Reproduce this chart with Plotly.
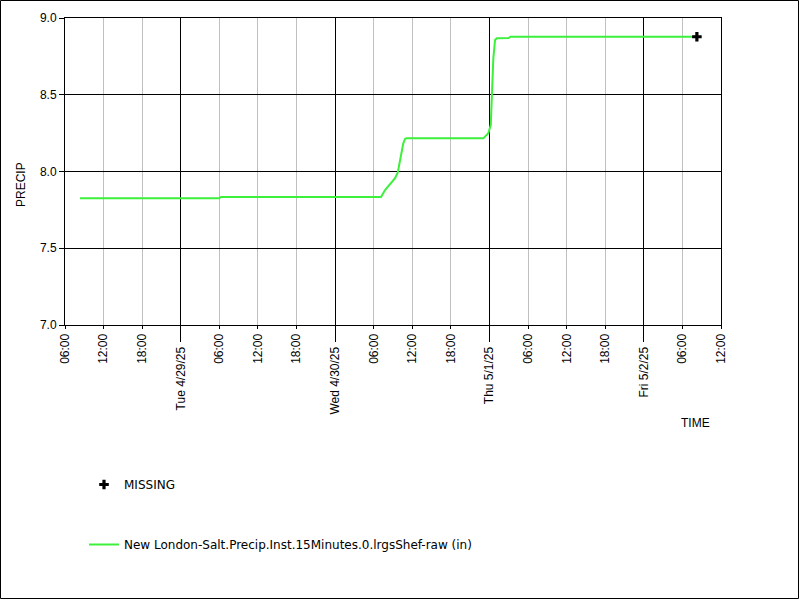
import plotly.graph_objects as go

# ---- data ----
times = [
    "2025-04-28 08:20", "2025-04-29 06:00", "2025-04-29 06:15", "2025-04-30 07:08",
    "2025-04-30 07:46", "2025-04-30 09:19", "2025-04-30 09:44", "2025-04-30 10:05",
    "2025-04-30 10:36", "2025-04-30 10:52", "2025-04-30 11:05", "2025-04-30 23:03",
    "2025-04-30 23:49", "2025-05-01 00:12", "2025-05-01 00:27", "2025-05-01 00:36",
    "2025-05-01 00:52", "2025-05-01 01:08", "2025-05-01 03:00", "2025-05-01 03:15",
    "2025-05-02 08:15",
]
precip = [
    7.826, 7.826, 7.834, 7.834,
    7.879, 7.956, 7.992, 8.064,
    8.184, 8.212, 8.216, 8.216,
    8.249, 8.303, 8.520, 8.737,
    8.857, 8.868, 8.870, 8.878,
    8.878,
]
missing_times = ["2025-05-02 08:15"]
missing_values = [8.878]

series_name = "New London-Salt.Precip.Inst.15Minutes.0.lrgsShef-raw (in)"
missing_name = "MISSING"

hour_ticks = [
    "2025-04-28 06:00", "2025-04-28 12:00", "2025-04-28 18:00",
    "2025-04-29 06:00", "2025-04-29 12:00", "2025-04-29 18:00",
    "2025-04-30 06:00", "2025-04-30 12:00", "2025-04-30 18:00",
    "2025-05-01 06:00", "2025-05-01 12:00", "2025-05-01 18:00",
    "2025-05-02 06:00", "2025-05-02 12:00",
]
hour_labels = ["06:00", "12:00", "18:00"] * 4 + ["06:00", "12:00"]
day_ticks = ["2025-04-29 00:00", "2025-04-30 00:00", "2025-05-01 00:00", "2025-05-02 00:00"]
day_labels = ["Tue 4/29/25", "Wed 4/30/25", "Thu 5/1/25", "Fri 5/2/25"]

x_range = ["2025-04-28 06:00", "2025-05-02 12:00"]
y_range = [7.0, 9.0]

# ---- layout geometry (pixels) ----
W, H = 800, 600
L, R, T, B = 65, 721, 18, 325
pw, ph = R - L, B - T


def px_x(p):
    return (p - L) / pw


def px_y(p):
    return (B - p) / ph


fig = go.Figure()
fig.add_trace(go.Scatter(
    x=times, y=precip, mode="lines", name=series_name,
    line=dict(color="#3cf03c", width=2), legend="legend2",
))
fig.add_trace(go.Scatter(
    x=missing_times, y=missing_values, mode="markers", name=missing_name,
    marker=dict(symbol="cross", size=8, color="black"), legend="legend",
))
# invisible trace to activate the day axis
fig.add_trace(go.Scatter(
    x=x_range, y=[None, None], xaxis="x2", showlegend=False, hoverinfo="skip",
))

tick_font = dict(family="Liberation Sans, Arial, sans-serif", size=12, color="black")
legend_font = dict(family="DejaVu Sans, Verdana, sans-serif", size=12, color="black")

fig.update_layout(
    width=W, height=H,
    margin=dict(l=L, r=W - R, t=T, b=H - B, pad=0),
    paper_bgcolor="white", plot_bgcolor="white",
    xaxis=dict(
        type="date", range=x_range, tickmode="array",
        tickvals=hour_ticks, ticktext=hour_labels, tickangle=-90,
        showgrid=True, gridcolor="#c0c0c0", gridwidth=1,
        showline=True, linecolor="black", linewidth=1, mirror=True,
        ticks="outside", ticklen=3, tickcolor="black",
        tickfont=tick_font, zeroline=False,
    ),
    xaxis2=dict(
        type="date", range=x_range, overlaying="x", side="bottom", anchor="y",
        tickmode="array", tickvals=day_ticks, ticktext=day_labels, tickangle=-90,
        showgrid=True, gridcolor="black", gridwidth=1,
        ticks="outside", ticklen=16, tickcolor="black",
        tickfont=tick_font, zeroline=False, showline=False,
    ),
    yaxis=dict(
        range=y_range, tickmode="linear", tick0=7.0, dtick=0.5, tickformat=".1f",
        showgrid=True, gridcolor="black", gridwidth=1,
        showline=True, linecolor="black", linewidth=1, mirror=True,
        ticks="outside", ticklen=5, tickcolor="black",
        tickfont=tick_font, zeroline=False,
    ),
    legend=dict(
        x=px_x(84), y=px_y(470), xanchor="left", yanchor="top",
        font=legend_font, bgcolor="rgba(0,0,0,0)", itemwidth=30,
    ),
    legend2=dict(
        x=px_x(84), y=px_y(530), xanchor="left", yanchor="top",
        font=legend_font, bgcolor="rgba(0,0,0,0)", itemwidth=30,
    ),
    annotations=[
        dict(text="PRECIP", xref="paper", yref="paper", x=px_x(21), y=px_y(185),
             showarrow=False, textangle=-90, font=tick_font,
             xanchor="center", yanchor="middle"),
        dict(text="TIME", xref="paper", yref="paper", x=px_x(695), y=px_y(423),
             showarrow=False, font=tick_font, xanchor="center", yanchor="middle"),
    ],
    shapes=[
        dict(type="rect", xref="paper", yref="paper",
             x0=px_x(0.5), x1=px_x(798.5), y0=px_y(598.5), y1=px_y(0.5),
             line=dict(color="black", width=1), layer="above"),
    ],
    showlegend=True,
)

fig.write_html(
    "out.html",
    config={"displayModeBar": False},
    post_script="document.body.style.margin='0';document.body.style.overflow='hidden';",
)
